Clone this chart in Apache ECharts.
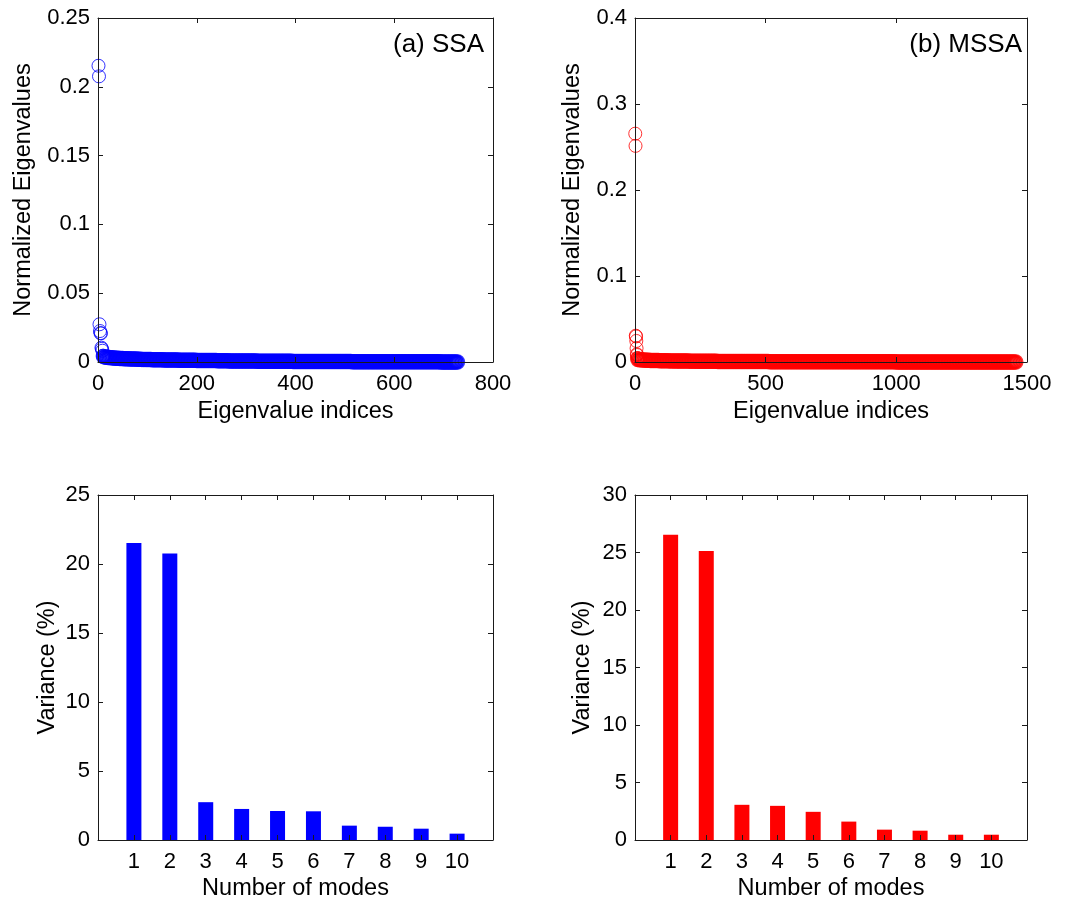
<!DOCTYPE html>
<html><head><meta charset="utf-8">
<script src="https://cdn.jsdelivr.net/npm/echarts@6/dist/echarts.min.js"></script>
<style>html,body{margin:0;padding:0;background:#fff}#c{width:1084px;height:906px}</style>
</head><body><div id="c"></div>
<script>
// ---- data ----
const modes = [1, 2, 3, 4, 5, 6, 7, 8, 9, 10];
const ssaVariance = [21.53, 20.76, 2.74, 2.25, 2.10, 2.08, 1.04, 0.96, 0.82, 0.46];
const mssaVariance = [26.55, 25.13, 3.06, 2.97, 2.45, 1.60, 0.90, 0.81, 0.46, 0.46];

// leading normalized eigenvalues (indices 1..10)
const ssaHead = [0.2153, 0.2076, 0.0274, 0.0225, 0.0210, 0.0208, 0.0104, 0.0096, 0.0082, 0.0046];
const mssaHead = [0.2655, 0.2513, 0.0306, 0.0297, 0.0245, 0.0160, 0.0090, 0.0081, 0.0046, 0.0046];

// tail of SSA spectrum, read every 3rd index starting at index 11 (730 eigenvalues)
const ssaTailStart = 11, ssaTailStep = 3;
const ssaTail = [
0.0040,0.0037,0.0035,0.0033,0.0032,0.0031,0.0030,0.0029,0.0028,0.0027,
0.0027,0.0026,0.0025,0.0025,0.0024,0.0024,0.0023,0.0023,0.0022,0.0022,
0.0021,0.0021,0.0021,0.0020,0.0020,0.0020,0.0019,0.0019,0.0019,0.0018,
0.0018,0.0018,0.0018,0.0017,0.0017,0.0017,0.0017,0.0016,0.0016,0.0016,
0.0016,0.0015,0.0015,0.0015,0.0015,0.0015,0.0014,0.0014,0.0014,0.0014,
0.0014,0.0013,0.0013,0.0013,0.0013,0.0013,0.0013,0.0012,0.0012,0.0012,
0.0012,0.0012,0.0012,0.0011,0.0011,0.0011,0.0011,0.0011,0.0011,0.0011,
0.0010,0.0010,0.0010,0.0010,0.0010,0.0010,0.0010,0.0009,0.0009,0.0009,
0.0009,0.0009,0.0009,0.0009,0.0009,0.0008,0.0008,0.0008,0.0008,0.0008,
0.0008,0.0008,0.0008,0.0008,0.0007,0.0007,0.0007,0.0007,0.0007,0.0007,
0.0007,0.0007,0.0007,0.0007,0.0006,0.0006,0.0006,0.0006,0.0006,0.0006,
0.0006,0.0006,0.0006,0.0006,0.0006,0.0005,0.0005,0.0005,0.0005,0.0005,
0.0005,0.0005,0.0005,0.0005,0.0005,0.0005,0.0005,0.0005,0.0004,0.0004,
0.0004,0.0004,0.0004,0.0004,0.0004,0.0004,0.0004,0.0004,0.0004,0.0004,
0.0004,0.0004,0.0004,0.0004,0.0004,0.0004,0.0003,0.0003,0.0003,0.0003,
0.0003,0.0003,0.0003,0.0003,0.0003,0.0003,0.0003,0.0003,0.0003,0.0003,
0.0003,0.0003,0.0003,0.0003,0.0003,0.0003,0.0003,0.0003,0.0002,0.0002,
0.0002,0.0002,0.0002,0.0002,0.0002,0.0002,0.0002,0.0002,0.0002,0.0002,
0.0002,0.0002,0.0002,0.0002,0.0002,0.0002,0.0002,0.0002,0.0002,0.0002,
0.0002,0.0002,0.0002,0.0002,0.0002,0.0002,0.0001,0.0001,0.0001,0.0001,
0.0001,0.0001,0.0001,0.0001,0.0001,0.0001,0.0001,0.0001,0.0001,0.0001,
0.0001,0.0001,0.0001,0.0001,0.0001,0.0001,0.0001,0.0001,0.0001,0.0001,
0.0001,0.0001,0.0001,0.0001,0.0001,0.0001,0.0001,0.0001,0.0000,0.0000,
0.0000,0.0000,0.0000,0.0000,0.0000,0.0000,0.0000,0.0000,0.0000,0.0000
];

// tail of MSSA spectrum, read every 6th index starting at index 11 (1460 eigenvalues)
const mssaTailStart = 11, mssaTailStep = 6;
const mssaTail = [
0.0030,0.0027,0.0025,0.0023,0.0022,0.0021,0.0020,0.0019,0.0018,0.0018,
0.0017,0.0017,0.0016,0.0016,0.0015,0.0015,0.0015,0.0014,0.0014,0.0014,
0.0013,0.0013,0.0013,0.0013,0.0012,0.0012,0.0012,0.0012,0.0011,0.0011,
0.0011,0.0011,0.0011,0.0010,0.0010,0.0010,0.0010,0.0010,0.0009,0.0009,
0.0009,0.0009,0.0009,0.0009,0.0008,0.0008,0.0008,0.0008,0.0008,0.0008,
0.0008,0.0007,0.0007,0.0007,0.0007,0.0007,0.0007,0.0007,0.0006,0.0006,
0.0006,0.0006,0.0006,0.0006,0.0006,0.0006,0.0006,0.0006,0.0006,0.0006,
0.0006,0.0006,0.0005,0.0005,0.0005,0.0005,0.0005,0.0005,0.0005,0.0005,
0.0005,0.0005,0.0005,0.0005,0.0004,0.0004,0.0004,0.0004,0.0004,0.0004,
0.0004,0.0004,0.0004,0.0004,0.0004,0.0004,0.0004,0.0004,0.0004,0.0004,
0.0004,0.0004,0.0004,0.0003,0.0003,0.0003,0.0003,0.0003,0.0003,0.0003,
0.0003,0.0003,0.0003,0.0003,0.0003,0.0003,0.0003,0.0003,0.0003,0.0003,
0.0003,0.0003,0.0003,0.0003,0.0003,0.0003,0.0003,0.0003,0.0003,0.0003,
0.0003,0.0003,0.0002,0.0002,0.0002,0.0002,0.0002,0.0002,0.0002,0.0002,
0.0002,0.0002,0.0002,0.0002,0.0002,0.0002,0.0002,0.0002,0.0002,0.0002,
0.0002,0.0002,0.0002,0.0002,0.0002,0.0002,0.0002,0.0002,0.0002,0.0002,
0.0002,0.0002,0.0002,0.0002,0.0002,0.0001,0.0001,0.0001,0.0001,0.0001,
0.0001,0.0001,0.0001,0.0001,0.0001,0.0001,0.0001,0.0001,0.0001,0.0001,
0.0001,0.0001,0.0001,0.0001,0.0001,0.0001,0.0001,0.0001,0.0001,0.0001,
0.0001,0.0001,0.0001,0.0001,0.0001,0.0001,0.0001,0.0001,0.0001,0.0001,
0.0001,0.0001,0.0001,0.0001,0.0001,0.0001,0.0001,0.0000,0.0000,0.0000,
0.0000,0.0000,0.0000,0.0000,0.0000,0.0000,0.0000,0.0000,0.0000,0.0000,
0.0000,0.0000,0.0000,0.0000,0.0000,0.0000,0.0000,0.0000,0.0000,0.0000,
0.0000,0.0000,0.0000,0.0000,0.0000,0.0000,0.0000,0.0000,0.0000,0.0000,
0.0000,0.0000
];

const panelLabels = ['(a) SSA', '(b) MSSA'];
const xNames = ['Eigenvalue indices', 'Eigenvalue indices', 'Number of modes', 'Number of modes'];
const yNames = ['Normalized Eigenvalues', 'Normalized Eigenvalues', 'Variance (%)', 'Variance (%)'];

// ---- build ----
const FONT = "'Liberation Sans', Arial, Helvetica, sans-serif";
const AX = '#1a1a1a';
const headPts = (head) => head.map((v, i) => [i + 1, v]);
const tailPts = (tail, start, step) => tail.map((v, i) => [start + i * step, v]);

const grids = [
  {left: 98, top: 18, width: 395, height: 344},
  {left: 635, top: 18, width: 392, height: 344},
  {left: 98, top: 495, width: 395, height: 345},
  {left: 635, top: 495, width: 392, height: 345}
];
const xr = [[0, 800, 200], [0, 1500, 500], [0, 11, 1], [0, 11, 1]];
const yr = [[0, 0.25, 0.05], [0, 0.4, 0.1], [0, 25, 5], [0, 30, 5]];
const yNameGap = [62, 50, 38, 40];
const xNameGap = [38, 38, 37, 37];

const xAxes = [], yAxes = [];
for (let g = 0; g < 4; g++) {
  const barAxis = g >= 2;
  const common = (r) => ({
    gridIndex: g, type: 'value', min: r[0], max: r[1], interval: r[2],
    splitLine: {show: false}, z: 5,
    axisLine: {show: true, onZero: false, lineStyle: {color: AX, width: 1}},
    axisTick: {show: true, inside: true, length: 5, lineStyle: {color: AX, width: 1}}
  });
  xAxes.push(Object.assign(common(xr[g]), {
    position: 'bottom',
    axisLabel: {fontSize: 22, color: '#000', fontFamily: FONT, margin: 11,
      formatter: barAxis ? (v => (v >= 1 && v <= 10) ? String(v) : '') : (v => String(v))},
    name: xNames[g], nameLocation: 'middle', nameGap: xNameGap[g],
    nameTextStyle: {fontSize: 23.5, color: '#000', fontFamily: FONT}
  }));
  xAxes.push(Object.assign(common(xr[g]), {position: 'top', axisLabel: {show: false}}));
  yAxes.push(Object.assign(common(yr[g]), {
    position: 'left',
    axisLabel: {fontSize: 22, color: '#000', fontFamily: FONT, margin: 8, formatter: v => String(v)},
    name: yNames[g], nameLocation: 'middle', nameGap: yNameGap[g],
    nameTextStyle: {fontSize: 23.5, color: '#000', fontFamily: FONT}
  }));
  yAxes.push(Object.assign(common(yr[g]), {position: 'right', axisLabel: {show: false}}));
}

const ring = (c, w) => ({color: 'rgba(0,0,0,0)', borderColor: c, borderWidth: w});
const series = [
  {type: 'scatter', xAxisIndex: 0, yAxisIndex: 0, data: headPts(ssaHead), symbol: 'circle', symbolSize: 13,
   itemStyle: ring('#0000ff', 1), z: 2},
  {type: 'scatter', xAxisIndex: 0, yAxisIndex: 0, data: tailPts(ssaTail, ssaTailStart, ssaTailStep),
   symbol: 'circle', symbolSize: 13, itemStyle: ring('#0000ff', 2.5), z: 2},
  {type: 'scatter', xAxisIndex: 2, yAxisIndex: 2, data: headPts(mssaHead), symbol: 'circle', symbolSize: 13,
   itemStyle: ring('#ff0000', 1), z: 2},
  {type: 'scatter', xAxisIndex: 2, yAxisIndex: 2, data: tailPts(mssaTail, mssaTailStart, mssaTailStep),
   symbol: 'circle', symbolSize: 13, itemStyle: ring('#ff0000', 2.5), z: 2},
  {type: 'bar', xAxisIndex: 4, yAxisIndex: 4, data: modes.map((m, i) => [m, ssaVariance[i]]),
   barWidth: 15, itemStyle: {color: '#0000ff'}},
  {type: 'bar', xAxisIndex: 6, yAxisIndex: 6, data: modes.map((m, i) => [m, mssaVariance[i]]),
   barWidth: 15, itemStyle: {color: '#ff0000'}}
];

const chart = echarts.init(document.getElementById('c'), null, {renderer: 'canvas'});
chart.setOption({
  animation: false,
  backgroundColor: '#fff',
  grid: grids.map(g => Object.assign({show: false}, g)),
  xAxis: xAxes,
  yAxis: yAxes,
  series: series,
  graphic: [
    {type: 'text', right: 1084 - 484, top: 32, style: {text: panelLabels[0], font: "26px " + FONT, fill: '#000'}},
    {type: 'text', right: 1084 - 1022, top: 32, style: {text: panelLabels[1], font: "26px " + FONT, fill: '#000'}}
  ]
});
</script></body></html>
